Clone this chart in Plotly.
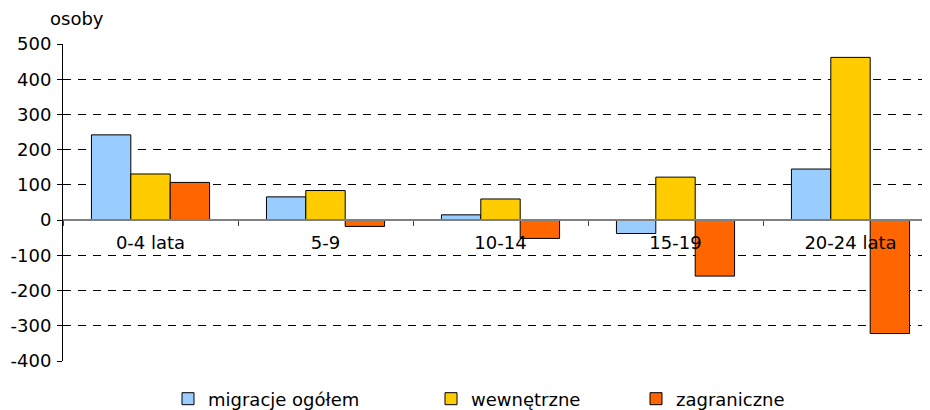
import plotly.graph_objects as go

categories = ["0-4 lata", "5-9", "10-14", "15-19", "20-24 lata"]
migracje_ogolem = [242, 66, 15, -38, 145]
wewnetrzne = [131, 84, 60, 122, 462]
zagraniczne = [107, -18, -52, -159, -322]

series_names = ["migracje ogółem", "wewnętrzne", "zagraniczne"]
series_values = [migracje_ogolem, wewnetrzne, zagraniczne]
colors = ["#99CCFF", "#FFCC00", "#FF6600"]
legend_ids = ["legend", "legend2", "legend3"]

FONT = "DejaVu Sans"
FS = 18

fig = go.Figure()
for name, vals, col, lg in zip(series_names, series_values, colors, legend_ids):
    fig.add_trace(go.Bar(
        x=categories, y=vals, name=name,
        marker=dict(color=col, line=dict(color="#000000", width=1)),
        legend=lg, showlegend=True,
    ))

# the page body adds an 8px offset; figure coordinates compensate for it
W, H = 922, 402
ml, mt, mb, mr = 55, 36, 49, 0
pw = W - ml - mr
ph = H - mt - mb

def px_x(p):
    return (p - ml) / pw

def px_y(p):
    return (H - mb - p) / ph

legend_common = dict(
    orientation="h", yanchor="middle", xanchor="left",
    xref="container", yref="container",
    font=dict(family=FONT, size=FS, color="#000000"),
    bgcolor="rgba(0,0,0,0)", itemwidth=30,
)
ly = (H - 391) / H

fig.update_layout(
    width=W, height=H,
    margin=dict(l=ml, r=mr, t=mt, b=mb, autoexpand=False),
    paper_bgcolor="white", plot_bgcolor="white",
    barmode="group", bargap=0.325, bargroupgap=0,
    showlegend=True,
    font=dict(family=FONT, size=FS, color="#000000"),
    legend=dict(x=160 / W, y=ly, **legend_common),
    legend2=dict(x=423 / W, y=ly, visible=True, **legend_common),
    legend3=dict(x=628 / W, y=ly, visible=True, **legend_common),
    xaxis=dict(
        type="category",
        range=[-0.5, -0.5 + pw / 175.0],
        anchor="free", position=400 / 900,
        showline=True, linecolor="#808080", linewidth=1.5,
        ticks="outside", ticklen=5, tickcolor="#404040", tickson="boundaries",
        showgrid=False, zeroline=False, automargin=False,
        tickfont=dict(family=FONT, size=FS, color="#000000"),
        ticklabelstandoff=7,
        fixedrange=True,
    ),
    yaxis=dict(
        range=[-400, 500],
        tickvals=[-400, -300, -200, -100, 0, 100, 200, 300, 400, 500],
        ticktext=["-400", "-300", "-200", "-100", "0", "100", "200", "300", "400", "500"],
        showline=True, linecolor="#000000", linewidth=1,
        ticks="outside", ticklen=5, tickcolor="#000000",
        showgrid=True, gridcolor="#000000", gridwidth=1, griddash="8px,7px",
        zeroline=False, automargin=False,
        tickfont=dict(family=FONT, size=FS, color="#000000"),
        ticklabelstandoff=2,
        fixedrange=True,
    ),
    annotations=[dict(
        text="osoby", xref="paper", yref="paper",
        x=px_x(40), y=px_y(10), xanchor="left", yanchor="middle",
        showarrow=False, font=dict(family=FONT, size=FS, color="#000000"),
    )],
)

fig.write_html("out.html")
